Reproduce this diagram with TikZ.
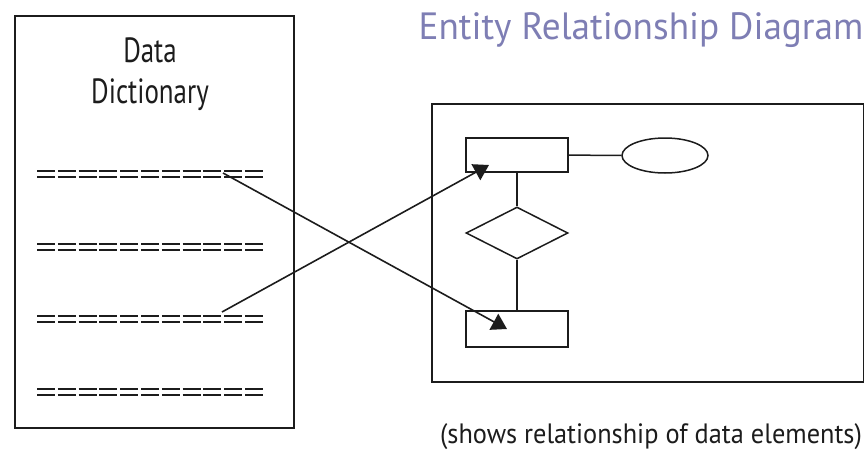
\documentclass[tikz,border=0pt]{standalone}
\usepackage{fontspec}
\setmainfont{PT Sans}
\newfontfamily\titlefont[FakeStretch=0.98]{PT Sans}
\newfontfamily\dictfont[FakeStretch=0.77]{PT Sans}
\newfontfamily\notefont[FakeStretch=0.94]{PT Sans}
\usetikzlibrary{shapes.geometric, arrows.meta, positioning}
\definecolor{titleblue}{HTML}{7E7EB4}
\definecolor{inkgray}{HTML}{1C1C1C}

\begin{document}
\begin{tikzpicture}[x=1pt, y=-1pt,
    frame/.style={draw=inkgray, line width=2pt},
    entity/.style={draw=inkgray, line width=1.5pt, minimum width=102pt, minimum height=34pt, inner sep=0pt},
    attrib/.style={ellipse, draw=inkgray, line width=1.5pt, minimum width=86pt, minimum height=35pt, inner sep=0pt},
    relation/.style={diamond, draw=inkgray, line width=1.5pt, minimum width=102pt, minimum height=52pt, aspect=1.96, inner sep=0pt},
    entry/.style={inkgray, line width=2pt, dash pattern=on 18pt off 2.8pt},
    link/.style={inkgray, line width=1.6pt, -{Triangle[length=15pt, width=18pt]}},
    conn/.style={inkgray, line width=1.5pt}]
  \useasboundingbox (0,0) rectangle (864,463);
  % Data Dictionary
  \node[frame, minimum width=279pt, minimum height=412pt, anchor=north west] (dict) at (14,15) {};
  \node[font=\dictfont\fontsize{35}{41}\selectfont, align=center, inkgray] (dicttitle) at (150,74) {Data\\Dictionary};
  % Eintraege
  \foreach \y in {171,243.5,316,389} {
    \draw[entry] (37,\y) -- (263,\y);
    \draw[entry] (37,\y+6) -- (263,\y+6);
  }
  \coordinate (src1) at (223,173);
  \coordinate (src2) at (222,312);
  % ER-Diagramm
  \node[font=\titlefont\fontsize{38}{44}\selectfont, text=titleblue] (ertitle) at (641,30) {Entity Relationship Diagram};
  \node[frame, minimum width=432pt, minimum height=278pt, anchor=north west] (er) at (431,103) {};
  \node[entity] (ent1) at (517,155) {};
  \node[entity, minimum height=36pt] (ent2) at (517,329) {};
  \node[attrib] (attr) at (665,155.5) {};
  \node[relation] (rel) at (517,233) {};
  \draw[conn] (ent1) -- (attr);
  \draw[conn] (ent1) -- (rel);
  \draw[conn] (rel) -- (ent2);
  % Verweise
  \coordinate (dst1) at (507,329);
  \coordinate (dst2) at (489,165);
  \draw[link] (src1) -- (dst1);
  \draw[link] (src2) -- (dst2);
  \node[font=\notefont\fontsize{28}{34}\selectfont, inkgray] (ernote) at (651,437) {(shows relationship of data elements)};
\end{tikzpicture}
\end{document}
